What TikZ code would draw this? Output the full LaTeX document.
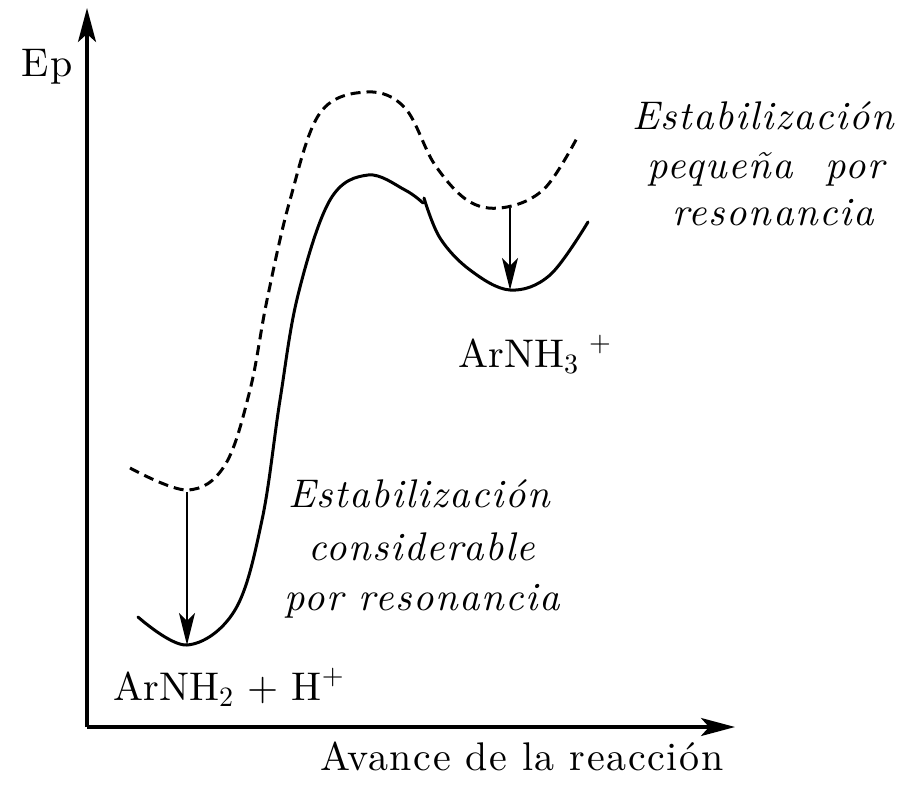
\documentclass[tikz,border=0pt]{standalone}
\usepackage{fontspec}
\setmainfont{lmroman10-regular.otf}[ItalicFont=lmroman10-italic.otf, BoldFont=lmroman10-bold.otf]
\usetikzlibrary{arrows.meta}
\tikzset{
  lbl/.style={inner sep=0pt, anchor=base, font=\fontsize{20}{24}\selectfont\addfontfeature{LetterSpace=4}},
  clbl/.style={inner sep=0pt, anchor=base west, font=\fontsize{20}{24}\selectfont},
  ilbl/.style={inner sep=0pt, anchor=base, font=\fontsize{20}{24}\selectfont\itshape\addfontfeature{LetterSpace=4}},
  axis/.style={line width=1.6pt, -{Stealth[length=17pt,width=9pt,inset=4pt]}},
  curve/.style={line width=1.5pt, line join=round, line cap=round},
  dcurve/.style={line width=1.5pt, dash pattern=on 5pt off 3pt},
  drop/.style={line width=1pt, -{Stealth[length=16pt,width=8pt,inset=4pt]}}
}
\begin{document}
\begin{tikzpicture}[x=0.5pt,y=-0.5pt]
\useasboundingbox (0,0) rectangle (913,786);
% axes
\coordinate (O) at (87,727);
\coordinate (ytop) at (87,8);
\coordinate (xend) at (735,727);
\draw[axis] (O) -- (ytop);
\draw[axis] (O) -- (xend);
\node[lbl] (ep) at (47,77) {Ep};
\node[lbl] (av) at (522,770) {Avance de la reacción};
% solid curve
\draw[curve] plot[smooth, tension=0.6] coordinates {
  (138,617) (187,645) (235,610) (262,520) (280,400) (298,295) (330,200) (368,175) (405,190) (423,203)};
\draw[curve] plot[smooth, tension=0.6] coordinates {
  (424,198) (440,238) (470,270) (510,290) (550,275) (588,222)};
% dashed curve
\draw[dcurve] plot[smooth, tension=0.6] coordinates {
  (130,468) (187,490) (225,465) (250,390) (267,300) (290,200) (320,113) (367,92)
  (405,108) (435,165) (470,202) (507,207) (545,188) (577,138)};
% stabilisation arrows
\coordinate (dl) at (187,492);
\coordinate (sl) at (187,645);
\coordinate (dr) at (510,208);
\coordinate (sr) at (510,290);
\draw[drop] (dl) -- (sl);
\draw[drop] (dr) -- (sr);
% labels
\node[clbl] (r1) at (113,700) {ArNH\textsubscript{2} + H\textsuperscript{+}};
\node[clbl] (r2) at (458,367) {ArNH\textsubscript{3}\textsuperscript{\hspace{5pt}+}};
\node[ilbl] (a1) at (763,130) {Estabilización};
\node[ilbl] (a2) at (766,178) {pequeña\ \ por};
\node[ilbl] (a3) at (773,225) {resonancia};
\node[ilbl] (b1) at (419,507) {Estabilización};
\node[ilbl] (b2) at (422,560) {considerable};
\node[ilbl] (b3) at (422,610) {por resonancia};
\end{tikzpicture}
\end{document}
